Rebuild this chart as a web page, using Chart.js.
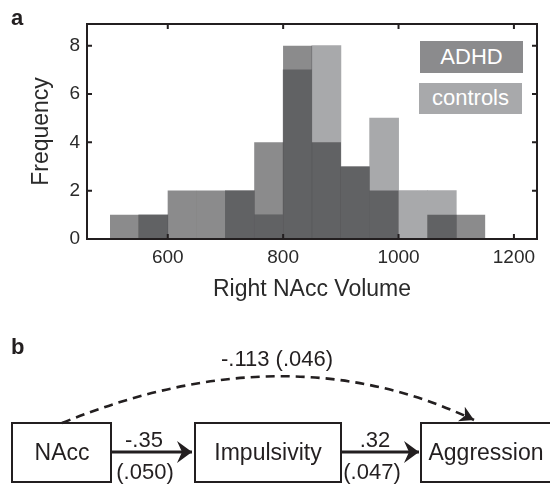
<!DOCTYPE html>
<html>
<head>
<meta charset="utf-8">
<script src="https://cdn.jsdelivr.net/npm/chart.js@4"></script>
<style>
  body { margin: 0; background: #fff; font-family: "Liberation Sans", Arial, sans-serif; color: #231f20; }
  #page { position: relative; width: 550px; height: 484px; overflow: hidden; }
  #wrap { position: absolute; left: 0; top: 0; width: 550px; height: 303px; }
  .panel { position: absolute; font-weight: bold; font-size: 22px; }
  .key { position: absolute; color: #fff; font-size: 22px; text-align: center; }
  svg { position: absolute; left: 0; top: 0; }
</style>
</head>
<body>
<div id="page">
  <div id="wrap"><canvas id="hist"></canvas></div>
  <div class="panel" style="left:11px; top:5px;">a</div>
  <div class="panel" style="left:11px; top:334px;">b</div>
  <div class="key" style="left:420px; top:41px; width:103px; height:32px; line-height:32px; background:#8b8b8d;">ADHD</div>
  <div class="key" style="left:419px; top:83px; width:103px; height:31px; line-height:30px; background:#a8a9ab;">controls</div>

  <svg width="550" height="484">
    <defs>
      <marker id="head" markerWidth="16" markerHeight="24" refX="15" refY="12" orient="auto" markerUnits="userSpaceOnUse">
        <path d="M0,1 L15,12 L0,23 L5,12 Z" fill="#231f20"/>
      </marker>
      <marker id="head2" markerWidth="16" markerHeight="20" refX="14" refY="10" orient="auto" markerUnits="userSpaceOnUse">
        <path d="M0,2 L14,10 L0,18 L4,10 Z" fill="#231f20"/>
      </marker>
    </defs>
    <g fill="none" stroke="#231f20" stroke-width="2">
      <rect x="12" y="423" width="99" height="59"/>
      <rect x="195" y="423" width="146" height="59"/>
      <rect x="421" y="423" width="140" height="59"/>
    </g>
    <line x1="111" y1="452" x2="192" y2="452" stroke="#231f20" stroke-width="3" marker-end="url(#head)"/>
    <line x1="341" y1="452" x2="419" y2="452" stroke="#231f20" stroke-width="3" marker-end="url(#head)"/>
    <path d="M62,423 Q287,331 474,420" fill="none" stroke="#231f20" stroke-width="2.6" stroke-dasharray="9 6" marker-end="url(#head2)"/>
    <g font-family="Liberation Sans, Arial, sans-serif" fill="#231f20" text-anchor="middle">
      <text x="62" y="460" font-size="23">NAcc</text>
      <text x="268" y="460" font-size="23">Impulsivity</text>
      <text x="486" y="460" font-size="23">Aggression</text>
      <text x="144" y="447" font-size="22">-.35</text>
      <text x="145" y="479" font-size="22">(.050)</text>
      <text x="375" y="447" font-size="22">.32</text>
      <text x="372" y="479" font-size="22">(.047)</text>
      <text x="277" y="366" font-size="22">-.113 (.046)</text>
    </g>
  </svg>
</div>

<script>
// histogram bins (centre of each 50-wide bin)
const binCenters = [525, 575, 625, 675, 725, 775, 825, 875, 925, 975, 1025, 1075, 1125];
const adhdCounts = [1, 1, 2, 2, 2, 4, 8, 4, 3, 2, 0, 1, 1];
const controlCounts = [0, 1, 0, 0, 2, 1, 7, 8, 3, 5, 2, 2, 0];
const xTicks = [600, 800, 1000, 1200];
const yTicks = [0, 2, 4, 6, 8];

const ink = "#231f20";
Chart.defaults.font.family = '"Liberation Sans", Arial, sans-serif';
Chart.defaults.color = "#2a2a2a";

// box around the plot with inward ticks, matlab style
const framePlugin = {
  id: "frame",
  afterDatasetsDraw(chart) {
    const { ctx, chartArea: a } = chart;
    const x = chart.scales.x;
    const y = chart.scales.y;
    ctx.save();
    ctx.strokeStyle = ink;
    ctx.lineWidth = 2;
    ctx.strokeRect(a.left, a.top, a.right - a.left, a.bottom - a.top);
    ctx.beginPath();
    xTicks.forEach((v) => {
      const px = x.getPixelForValue(v);
      ctx.moveTo(px, a.bottom);
      ctx.lineTo(px, a.bottom - 5);
      ctx.moveTo(px, a.top);
      ctx.lineTo(px, a.top + 5);
    });
    yTicks.forEach((v) => {
      const py = y.getPixelForValue(v);
      ctx.moveTo(a.left, py);
      ctx.lineTo(a.left + 5, py);
      ctx.moveTo(a.right, py);
      ctx.lineTo(a.right - 5, py);
    });
    ctx.stroke();
    ctx.restore();
  },
};

const ctx = document.getElementById("hist").getContext("2d");
window.histChart = new Chart(ctx, {
  type: "bar",
  data: {
    datasets: [
      {
        label: "ADHD",
        data: binCenters.map((c, i) => ({ x: c, y: adhdCounts[i] })),
        backgroundColor: "rgba(33,33,35,0.523)",
        grouped: false,
        barPercentage: 1,
        categoryPercentage: 1,
        borderWidth: 0,
        inflateAmount: 0.1,
      },
      {
        label: "controls",
        data: binCenters.map((c, i) => ({ x: c, y: controlCounts[i] })),
        backgroundColor: "#a8a9ab",
        grouped: false,
        barPercentage: 1,
        categoryPercentage: 1,
        borderWidth: 0,
        inflateAmount: 0.4,
      },
    ],
  },
  options: {
    responsive: true,
    maintainAspectRatio: false,
    animation: false,
    layout: { padding: { left: 28, top: 24, right: 13, bottom: 0 } },
    plugins: { legend: { display: false }, tooltip: { enabled: false } },
    scales: {
      x: {
        type: "linear",
        offset: false,
        min: 460,
        max: 1240,
        afterBuildTicks: (s) => { s.ticks = xTicks.map((v) => ({ value: v })); },
        afterFit: (s) => { s.height = 64; },
        grid: { display: false, drawTicks: false },
        border: { display: false },
        ticks: { font: { size: 19 }, padding: 7, maxRotation: 0, callback: (v) => String(v) },
        title: { display: true, text: "Right NAcc Volume", font: { size: 23 }, padding: 0, color: "#2a2a2a" },
      },
      y: {
        min: 0,
        max: 8.9,
        afterBuildTicks: (s) => { s.ticks = yTicks.map((v) => ({ value: v })); },
        afterFit: (s) => { s.width = 59; },
        grid: { display: false, drawTicks: false },
        border: { display: false },
        ticks: { font: { size: 19 }, padding: 7, callback: (v) => String(v) },
        title: { display: true, text: "Frequency", font: { size: 23 }, padding: 0, color: "#2a2a2a" },
      },
    },
  },
  plugins: [framePlugin],
});
</script>
</body>
</html>
